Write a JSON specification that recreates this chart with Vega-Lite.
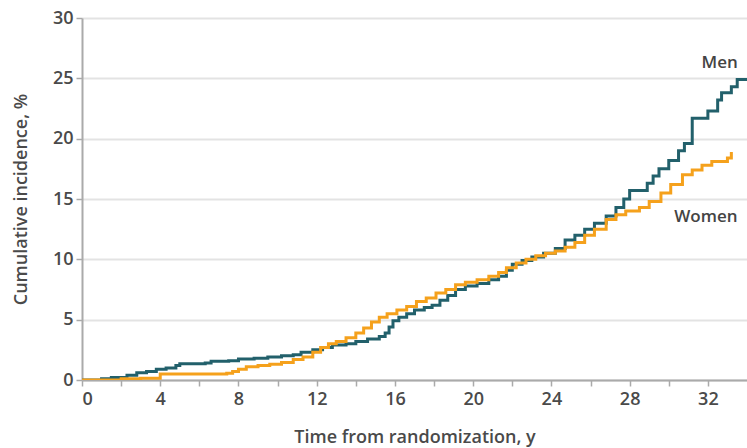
{
  "$schema": "https://vega.github.io/schema/vega-lite/v6.json",
  "width": 665,
  "height": 362,
  "autosize": "none",
  "padding": {"left": 82, "top": 18, "right": 0, "bottom": 68},
  "background": "white",
  "config": {"view": {"stroke": null}, "font": "Open Sans"},
  "datasets": {
    "curves": [
      {"sex": "Men", "t": 0, "v": 0}, {"sex": "Men", "t": 1, "v": 0.1}, {"sex": "Men", "t": 1.5, "v": 0.2}, {"sex": "Men", "t": 2.3, "v": 0.4}, {"sex": "Men", "t": 2.8, "v": 0.6}, {"sex": "Men", "t": 3.3, "v": 0.7}, {"sex": "Men", "t": 3.8, "v": 0.9}, {"sex": "Men", "t": 4.3, "v": 1.0}, {"sex": "Men", "t": 4.8, "v": 1.2}, {"sex": "Men", "t": 5.0, "v": 1.35}, {"sex": "Men", "t": 6.3, "v": 1.4}, {"sex": "Men", "t": 6.6, "v": 1.55}, {"sex": "Men", "t": 7.5, "v": 1.6}, {"sex": "Men", "t": 8.0, "v": 1.75}, {"sex": "Men", "t": 8.8, "v": 1.8}, {"sex": "Men", "t": 9.5, "v": 1.9}, {"sex": "Men", "t": 10.2, "v": 2.0}, {"sex": "Men", "t": 10.8, "v": 2.1}, {"sex": "Men", "t": 11.2, "v": 2.3}, {"sex": "Men", "t": 11.8, "v": 2.5}, {"sex": "Men", "t": 12.3, "v": 2.7}, {"sex": "Men", "t": 12.8, "v": 2.9}, {"sex": "Men", "t": 13.5, "v": 3.0}, {"sex": "Men", "t": 14.0, "v": 3.2}, {"sex": "Men", "t": 14.6, "v": 3.4}, {"sex": "Men", "t": 15.2, "v": 3.6}, {"sex": "Men", "t": 15.5, "v": 3.9}, {"sex": "Men", "t": 15.7, "v": 4.4}, {"sex": "Men", "t": 15.9, "v": 4.9}, {"sex": "Men", "t": 16.2, "v": 5.2}, {"sex": "Men", "t": 16.6, "v": 5.5}, {"sex": "Men", "t": 17.0, "v": 5.8}, {"sex": "Men", "t": 17.5, "v": 6.0}, {"sex": "Men", "t": 17.9, "v": 6.2}, {"sex": "Men", "t": 18.3, "v": 6.6}, {"sex": "Men", "t": 18.7, "v": 7.0}, {"sex": "Men", "t": 19.1, "v": 7.5}, {"sex": "Men", "t": 19.6, "v": 7.8}, {"sex": "Men", "t": 20.2, "v": 8.0}, {"sex": "Men", "t": 20.8, "v": 8.3}, {"sex": "Men", "t": 21.3, "v": 8.6}, {"sex": "Men", "t": 21.7, "v": 9.1}, {"sex": "Men", "t": 22.0, "v": 9.6}, {"sex": "Men", "t": 22.5, "v": 9.9}, {"sex": "Men", "t": 23.0, "v": 10.2}, {"sex": "Men", "t": 23.6, "v": 10.5}, {"sex": "Men", "t": 24.2, "v": 10.9}, {"sex": "Men", "t": 24.7, "v": 11.6}, {"sex": "Men", "t": 25.2, "v": 12.0}, {"sex": "Men", "t": 25.7, "v": 12.5}, {"sex": "Men", "t": 26.2, "v": 13.0}, {"sex": "Men", "t": 26.8, "v": 13.6}, {"sex": "Men", "t": 27.3, "v": 14.3}, {"sex": "Men", "t": 27.7, "v": 15.0}, {"sex": "Men", "t": 28.0, "v": 15.7}, {"sex": "Men", "t": 28.9, "v": 16.3}, {"sex": "Men", "t": 29.2, "v": 16.9}, {"sex": "Men", "t": 29.5, "v": 17.5}, {"sex": "Men", "t": 30.0, "v": 18.2}, {"sex": "Men", "t": 30.5, "v": 19.0}, {"sex": "Men", "t": 30.8, "v": 19.6}, {"sex": "Men", "t": 31.2, "v": 21.7}, {"sex": "Men", "t": 32.0, "v": 22.3}, {"sex": "Men", "t": 32.5, "v": 23.2}, {"sex": "Men", "t": 32.7, "v": 23.8}, {"sex": "Men", "t": 33.2, "v": 24.3}, {"sex": "Men", "t": 33.5, "v": 24.9}, {"sex": "Men", "t": 34, "v": 24.9},
      {"sex": "Women", "t": 0, "v": 0}, {"sex": "Women", "t": 2.0, "v": 0.1}, {"sex": "Women", "t": 3.0, "v": 0.15}, {"sex": "Women", "t": 4.0, "v": 0.5}, {"sex": "Women", "t": 7.4, "v": 0.55}, {"sex": "Women", "t": 7.7, "v": 0.7}, {"sex": "Women", "t": 8.0, "v": 0.9}, {"sex": "Women", "t": 8.4, "v": 1.1}, {"sex": "Women", "t": 9.0, "v": 1.2}, {"sex": "Women", "t": 9.6, "v": 1.3}, {"sex": "Women", "t": 10.2, "v": 1.45}, {"sex": "Women", "t": 10.8, "v": 1.7}, {"sex": "Women", "t": 11.3, "v": 1.9}, {"sex": "Women", "t": 11.8, "v": 2.3}, {"sex": "Women", "t": 12.2, "v": 2.7}, {"sex": "Women", "t": 12.6, "v": 3.0}, {"sex": "Women", "t": 13.0, "v": 3.2}, {"sex": "Women", "t": 13.5, "v": 3.5}, {"sex": "Women", "t": 14.0, "v": 3.9}, {"sex": "Women", "t": 14.4, "v": 4.3}, {"sex": "Women", "t": 14.8, "v": 4.8}, {"sex": "Women", "t": 15.2, "v": 5.2}, {"sex": "Women", "t": 15.6, "v": 5.5}, {"sex": "Women", "t": 16.1, "v": 5.8}, {"sex": "Women", "t": 16.6, "v": 6.1}, {"sex": "Women", "t": 17.1, "v": 6.5}, {"sex": "Women", "t": 17.6, "v": 6.8}, {"sex": "Women", "t": 18.1, "v": 7.2}, {"sex": "Women", "t": 18.6, "v": 7.5}, {"sex": "Women", "t": 19.1, "v": 7.9}, {"sex": "Women", "t": 19.6, "v": 8.1}, {"sex": "Women", "t": 20.2, "v": 8.3}, {"sex": "Women", "t": 20.8, "v": 8.6}, {"sex": "Women", "t": 21.3, "v": 8.9}, {"sex": "Women", "t": 21.7, "v": 9.3}, {"sex": "Women", "t": 22.2, "v": 9.7}, {"sex": "Women", "t": 22.7, "v": 10.0}, {"sex": "Women", "t": 23.2, "v": 10.3}, {"sex": "Women", "t": 23.7, "v": 10.5}, {"sex": "Women", "t": 24.2, "v": 10.7}, {"sex": "Women", "t": 24.7, "v": 11.0}, {"sex": "Women", "t": 25.2, "v": 11.4}, {"sex": "Women", "t": 25.7, "v": 12.0}, {"sex": "Women", "t": 26.2, "v": 12.5}, {"sex": "Women", "t": 26.8, "v": 13.3}, {"sex": "Women", "t": 27.3, "v": 13.7}, {"sex": "Women", "t": 27.8, "v": 14.0}, {"sex": "Women", "t": 28.5, "v": 14.3}, {"sex": "Women", "t": 29.0, "v": 14.8}, {"sex": "Women", "t": 29.6, "v": 15.5}, {"sex": "Women", "t": 30.1, "v": 16.2}, {"sex": "Women", "t": 30.7, "v": 17.0}, {"sex": "Women", "t": 31.2, "v": 17.4}, {"sex": "Women", "t": 31.7, "v": 17.8}, {"sex": "Women", "t": 32.2, "v": 18.1}, {"sex": "Women", "t": 33.0, "v": 18.4}, {"sex": "Women", "t": 33.2, "v": 18.9}
    ],
    "labels": [
      {"sex": "Men", "t": 32.6, "v": 26.3},
      {"sex": "Women", "t": 31.9, "v": 13.5}
    ]
  },
  "layer": [
    {
      "data": {"name": "curves"},
      "mark": {"type": "line", "interpolate": "step-after", "strokeWidth": 3, "clip": true},
      "encoding": {
        "x": {
          "field": "t", "type": "quantitative",
          "scale": {"domain": [0, 34], "nice": false},
          "axis": {
            "title": "Time from randomization, y",
            "values": [0, 2, 4, 6, 8, 10, 12, 14, 16, 18, 20, 22, 24, 26, 28, 30, 32],
            "labelExpr": "datum.value % 4 === 0 ? datum.label : ''",
            "grid": false,
            "domainColor": "#aaaaaa", "domainWidth": 2,
            "tickColor": "#aaaaaa", "tickWidth": 1.5, "tickSize": 6,
            "labelFontSize": 18, "labelFontWeight": 600, "labelColor": "#4a4a4a", "labelPadding": 4,
            "titleFontSize": 18, "titleColor": "#4a4a4a", "titleFontWeight": 600, "titlePadding": 20
          }
        },
        "y": {
          "field": "v", "type": "quantitative",
          "scale": {"domain": [0, 30], "nice": false},
          "axis": {
            "title": "Cumulative incidence, %",
            "values": [0, 5, 10, 15, 20, 25, 30],
            "gridColor": "#e3e3e3", "gridWidth": 2,
            "domainColor": "#aaaaaa", "domainWidth": 2,
            "tickColor": "#aaaaaa", "tickWidth": 1.5, "tickSize": 6,
            "labelFontSize": 18, "labelFontWeight": 600, "labelColor": "#4a4a4a", "labelPadding": 3,
            "titleFontSize": 18, "titleColor": "#4a4a4a", "titleFontWeight": 600, "titlePadding": 22
          }
        },
        "color": {
          "field": "sex", "type": "nominal",
          "scale": {"domain": ["Men", "Women"], "range": ["#22606b", "#f5a11c"]},
          "legend": null
        }
      }
    },
    {
      "data": {"name": "labels"},
      "mark": {"type": "text", "fontSize": 17, "color": "#444444", "fontWeight": 600},
      "encoding": {
        "x": {"field": "t", "type": "quantitative"},
        "y": {"field": "v", "type": "quantitative"},
        "text": {"field": "sex"}
      }
    }
  ]
}
